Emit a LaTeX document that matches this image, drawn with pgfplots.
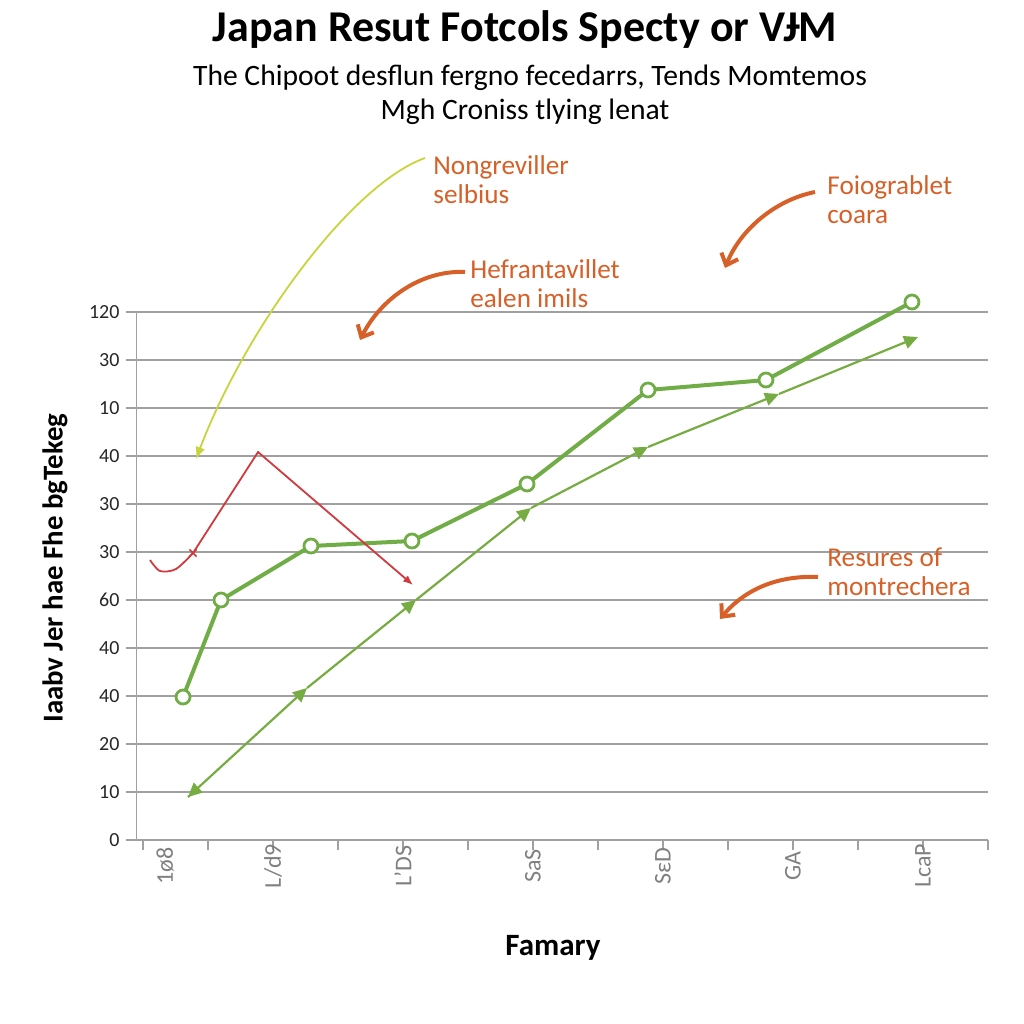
\documentclass[border=0pt]{standalone}
\usepackage{pgfplots}
\pgfplotsset{compat=1.18}
\usepackage{fontspec}
\setmainfont{Carlito}
\usetikzlibrary{arrows.meta}
\definecolor{grn}{RGB}{112,173,71}
\definecolor{grn2}{RGB}{118,172,66}
\definecolor{org}{RGB}{214,96,40}
\definecolor{ylw}{RGB}{200,212,60}
\definecolor{rd}{RGB}{208,58,62}
\definecolor{gridc}{RGB}{160,160,160}
\begin{document}
\begin{tikzpicture}[x=0.5pt,y=0.5pt]
\path[use as bounding box] (0,0) rectangle (1024,1024);
\begin{axis}[
  at={(68.25pt,92pt)}, anchor=south west, scale only axis,
  width=425.75pt, height=264pt,
  xmin=-0.05, xmax=6.5, ymin=0, ymax=110, clip=false,
  axis x line=bottom, axis y line=left,
  axis line style={-, gridc, line width=0.9pt},
  tick align=outside, major tick length=5pt,
  tick style={gridc, line width=0.8pt},
  xtick={0,0.5,...,6.5}, xticklabels={},
  extra x ticks={0.17,1,2,3,4,5,6},
  extra x tick labels={1ø8,L/d9,L'DS,SaS,SεD,GA,LcaP},
  extra x tick style={major tick length=0pt,
    tick label style={anchor=center, yshift=-13pt, rotate=90,
      font=\fontsize{12}{12}\selectfont, text=black!50}},
  ytick={0,10,...,110},
  yticklabels={0,10,20,40,40,60,30,30,40,10,30,120},
  yticklabel style={font=\fontsize{10}{12}\selectfont, text=black!85},
  ymajorgrids, grid style={gridc, line width=0.8pt},
  /pgf/number format/assume math mode=true,
]
% thin green series with arrowheads
\addplot[grn2, line width=1.1pt, quiver={u=\thisrow{u},v=\thisrow{v}},
  -{Triangle[length=7pt,width=6.5pt]}] table {
x y u v
0.346 8.96 0.916 22.71
1.262 31.67 0.838 18.33
2.100 50.00 0.885 19.17
2.985 69.17 0.900 12.71
3.885 81.88 1.007 11.04
4.892 92.92 1.070 11.87
};
\addplot[grn2, line width=1.1pt, quiver={u=\thisrow{u},v=\thisrow{v}},
  -{Triangle[length=7pt,width=6.5pt]}] table {
x y u v
0.392 10.10 -0.046 -1.14
};
% thick green series with open circles
\addplot[grn, line width=2pt, mark=*, mark size=3.5pt,
  mark options={fill=white, draw=grn, line width=1.4pt}] coordinates {
(0.308,29.79) (0.600,50.00) (1.292,61.25) (2.069,62.29)
(2.954,74.17) (3.885,93.75) (4.792,95.83) (5.915,112.08)
};
% red annotation line
\addplot[rd, line width=0.9pt, smooth] coordinates {
(0.054,58.33) (0.131,56.04) (0.254,56.46) (0.385,59.79)
};
\addplot[rd, line width=0.9pt, -{Latex[length=5pt,width=4pt]}] coordinates {
(0.385,59.79) (0.885,80.83) (2.077,53.12)
};
\addplot[rd, only marks, mark=x, mark size=2.5pt, line width=0.8pt] coordinates {(0.385,59.79)};
\end{axis}
% titles
\node[font=\bfseries\fontsize{22}{26}\selectfont] at (525,994) {Japan Resut Fotcols Specty or VɈM};
\node[font=\fontsize{14.8}{17}\selectfont] at (530,946) {The Chipoot desflun fergno fecedarrs, Tends Momtemos};
\node[font=\fontsize{14.8}{17}\selectfont] at (525,912) {Mgh Croniss tlying lenat};
\node[font=\bfseries\fontsize{14.4}{16}\selectfont, rotate=90] at (55,456) {Iaabv Jer hae Fhe bgTekeg};
\node[font=\bfseries\fontsize{15.5}{18}\selectfont] at (553,76) {Famary};
% annotations
\begin{scope}[font=\fontsize{13.6}{14.5}\selectfont, text=org]
\node[anchor=west, align=left, inner sep=0pt] at (433,844) {Nongreviller\\selbius};
\node[anchor=west, align=left, inner sep=0pt] at (470,740) {Hefrantavillet\\ealen imils};
\node[anchor=west, align=left, inner sep=0pt] at (827,824) {Foiograblet\\coara};
\node[anchor=west, align=left, inner sep=0pt] at (827,452) {Resures of\\montrechera};
\end{scope}
\draw[ylw, line width=0.9pt, -{Latex[length=6pt,width=5pt]}] (425,866) .. controls (350,839) and (245,694) .. (196,565);
\draw[org, line width=2pt, -{Straight Barb[length=5pt,width=9pt]}] (465,752) .. controls (420,754) and (380,724) .. (360,684);
\draw[org, line width=2pt, -{Straight Barb[length=5pt,width=9pt]}] (815,832) .. controls (775,824) and (740,794) .. (725,756);
\draw[org, line width=2pt, -{Straight Barb[length=5pt,width=9pt]}] (818,447) .. controls (770,449) and (740,429) .. (720,405);
\end{tikzpicture}
\end{document}
